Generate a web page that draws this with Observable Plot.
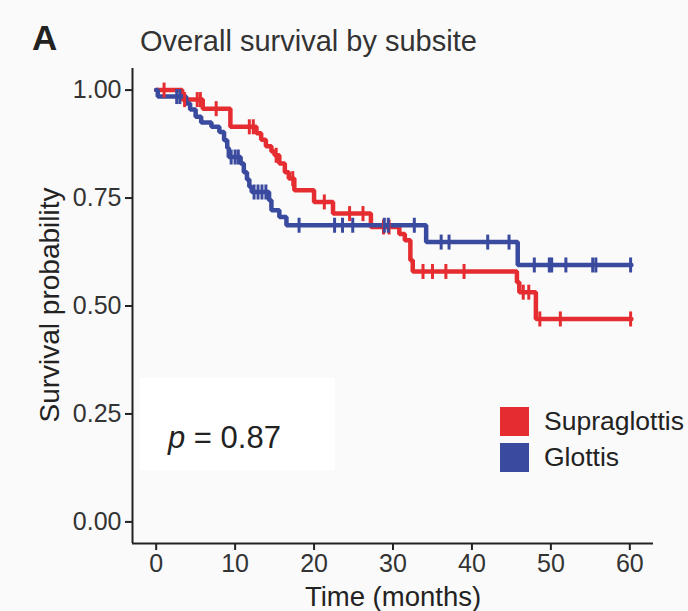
<!DOCTYPE html>
<html>
<head>
<meta charset="utf-8">
<script src="https://cdn.jsdelivr.net/npm/d3@7"></script>
<script src="https://cdn.jsdelivr.net/npm/@observablehq/plot@0.6"></script>
<style>
  html, body { margin: 0; padding: 0; background: #fafafa; }
  #wrap { position: relative; width: 688px; height: 611px; background: #fafafa; font-family: "Liberation Sans", Arial, sans-serif; color: #222; }
  #chart { position: absolute; left: 0; top: 0; }
  .ov { position: absolute; white-space: nowrap; line-height: 1; }
</style>
</head>
<body>
<div id="wrap">
  <div id="chart"></div>
  <div class="ov" id="panel" style="left:32px;top:20px;font-size:35px;font-weight:bold;">A</div>
  <div class="ov" id="title" style="left:140px;top:27px;font-size:29px;color:#333;">Overall survival by subsite</div>
  <div class="ov" id="ytitle" style="left:50px;top:305px;font-size:28px;color:#222;transform:translate(-50%,-50%) rotate(-90deg);">Survival probability</div>
  <div class="ov" id="xtitle" style="left:393px;top:597px;font-size:27.5px;color:#222;transform:translate(-50%,-50%);">Time (months)</div>
  <div class="ov" id="pbox" style="left:140px;top:378px;width:195px;height:92px;background:#ffffff;"></div>
  <div class="ov" id="ptext" style="left:168px;top:422px;font-size:31px;color:#222;"><i>p</i> = 0.87</div>
  <div class="ov" id="legend" style="left:500px;top:403px;"></div>
</div>
<script>
// ---- data ----
const groups = ["Supraglottis", "Glottis"];
const colors = ["#e52d31", "#3a4a9e"];

const supraTime = [0, 3.3, 5.9, 9.4, 12.7, 13.3, 13.9, 14.6, 15.0, 15.6, 16.3, 16.8, 17.5, 20.0, 22.4, 27.2, 30.8, 31.5, 32.2, 32.5, 45.7, 46.0, 48.1, 60.2];
const supraSurv = [1.0, 0.978, 0.957, 0.915, 0.90, 0.885, 0.87, 0.858, 0.849, 0.83, 0.81, 0.795, 0.768, 0.741, 0.714, 0.683, 0.667, 0.652, 0.606, 0.58, 0.555, 0.532, 0.47, 0.47];
const supraCensor = [1.0, 3.6, 5.2, 5.6, 7.6, 11.8, 12.3, 15.2, 17.3, 21.3, 24.5, 26.2, 28.8, 29.5, 33.8, 35.0, 36.7, 39.0, 46.5, 47.2, 48.6, 51.2, 60.1];

const glotTime = [0, 0.2, 3.8, 4.3, 5.0, 5.7, 7.0, 8.0, 8.6, 9.0, 9.2, 10.7, 11.1, 11.5, 11.8, 12.1, 14.3, 14.6, 15.6, 16.5, 34.2, 45.8, 60.2];
const glotSurv = [1.0, 0.985, 0.969, 0.955, 0.938, 0.925, 0.915, 0.903, 0.884, 0.866, 0.845, 0.83, 0.81, 0.793, 0.776, 0.764, 0.745, 0.722, 0.706, 0.687, 0.648, 0.595, 0.595];
const glotCensor = [2.6, 3.0, 9.5, 10.0, 10.4, 12.4, 12.9, 13.4, 13.9, 18.1, 22.6, 23.6, 24.9, 28.9, 29.4, 32.7, 36.1, 37.1, 42.0, 44.7, 47.9, 49.8, 50.1, 51.9, 55.3, 55.7, 60.1];

const xTicks = [0, 10, 20, 30, 40, 50, 60];
const yTicks = [0, 0.25, 0.5, 0.75, 1];
const xDomain = [-3, 63];
const yDomain = [-0.05, 1.05];

// ---- build tables ----
function steps(group, times, surv) {
  return times.map((t, i) => ({group, t, s: surv[i]}));
}
function censors(group, times, stepT, stepS) {
  return times.map(t => {
    const i = d3.bisectRight(stepT, t) - 1;
    return {group, t, s: stepS[Math.max(0, i)]};
  });
}
const lines = [...steps(groups[0], supraTime, supraSurv), ...steps(groups[1], glotTime, glotSurv)];
const marksC = [...censors(groups[0], supraCensor, supraTime, supraSurv), ...censors(groups[1], glotCensor, glotTime, glotSurv)];

const vbar = { draw(ctx, size) { const r = Math.sqrt(size / Math.PI); ctx.moveTo(0, -r); ctx.lineTo(0, r); } };

const chart = Plot.plot({
  width: 688,
  height: 611,
  marginLeft: 132,
  marginRight: 35,
  marginTop: 68,
  marginBottom: 68,
  style: { background: "transparent", fontFamily: "'Liberation Sans', Arial, sans-serif", fontSize: "25px", color: "#333" },
  x: { domain: xDomain },
  y: { domain: yDomain },
  color: { domain: groups, range: colors },
  marks: [
    Plot.axisX({ ticks: xTicks, tickSize: 7, tickPadding: 4, label: null, tickFormat: d3.format("d"), stroke: "#222", strokeWidth: 2 }),
    Plot.axisY({ ticks: yTicks, tickSize: 7, tickPadding: 4, label: null, tickFormat: d3.format(".2f"), stroke: "#222", strokeWidth: 2 }),
    Plot.ruleX([xDomain[0]], { stroke: "#222", strokeWidth: 2 }),
    Plot.ruleY([yDomain[0]], { stroke: "#222", strokeWidth: 2 }),
    Plot.line(lines, { x: "t", y: "s", z: "group", stroke: "group", curve: "step-after", strokeWidth: 4.5, strokeLinejoin: "miter" }),
    Plot.dot(marksC, { x: "t", y: "s", stroke: "group", symbol: vbar, r: 7.5, strokeWidth: 3, fill: "none" })
  ]
});
document.getElementById("chart").appendChild(chart);

// legend
const leg = document.getElementById("legend");
groups.forEach((g, i) => {
  const row = document.createElement("div");
  row.style.cssText = "display:flex;align-items:center;height:36px;";
  const sw = document.createElement("div");
  sw.style.cssText = `width:29px;height:29px;background:${colors[i]};margin-right:15px;`;
  const tx = document.createElement("div");
  tx.textContent = g;
  tx.style.cssText = "font-size:26.5px;color:#222;";
  row.appendChild(sw); row.appendChild(tx);
  leg.appendChild(row);
});
</script>
</body>
</html>
